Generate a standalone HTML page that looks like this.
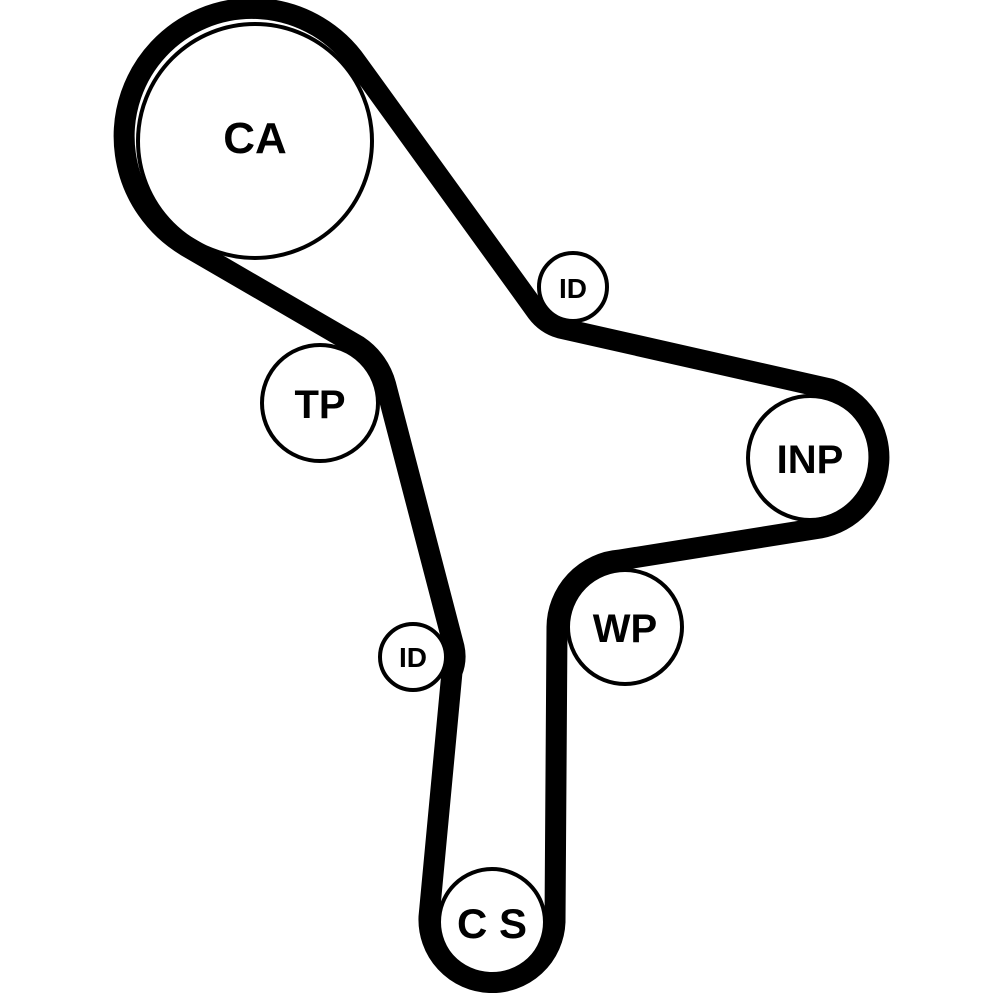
<!DOCTYPE html>
<html><head><meta charset="utf-8"><style>html,body{margin:0;padding:0;background:#fff}</style></head>
<body>
<svg width="1000" height="1000" viewBox="0 0 1000 1000" xmlns="http://www.w3.org/2000/svg">
<g fill="#fff" stroke="#000" stroke-width="4">
<circle cx="255" cy="141" r="117"/>
<circle cx="573" cy="287" r="34"/>
<circle cx="320" cy="403" r="58"/>
<circle cx="810" cy="458" r="62"/>
<circle cx="625" cy="627" r="57"/>
<circle cx="413" cy="657" r="33"/>
<circle cx="492" cy="922" r="53"/>
</g>
<path d="M186 246 L358 346 A68 68 0 0 1 386 386 L454 647 A42 42 0 0 1 452 672 L429 917 A63 63 0 0 0 555 922 L557 627 A68 68 0 0 1 620 560 L820 528 A72 72 0 0 0 830 389 L560 328 A45 45 0 0 1 537 312 L357 63 A128 128 0 1 0 186 246 Z" fill="none" stroke="#000" stroke-width="21" stroke-linejoin="round"/>
<g font-family="Liberation Sans, sans-serif" font-weight="bold" fill="#000" text-anchor="middle">
<text x="255" y="153" font-size="44">CA</text>
<text x="573" y="298" font-size="28">ID</text>
<text x="320" y="418" font-size="40">TP</text>
<text x="810" y="473" font-size="40">INP</text>
<text x="625" y="642" font-size="40">WP</text>
<text x="413" y="667" font-size="28">ID</text>
<text x="492" y="938" font-size="42">C S</text>
</g>
</svg>
</body></html>
